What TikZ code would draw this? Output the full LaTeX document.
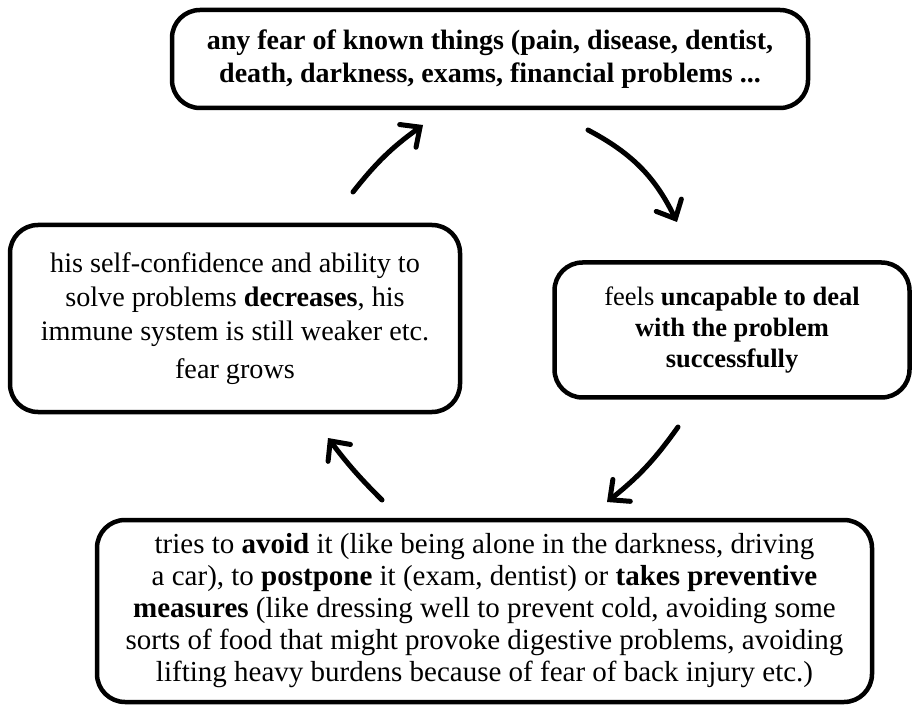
\documentclass[tikz,border=0pt]{standalone}
\usepackage{fontspec}
\setmainfont{Liberation Serif}
\usetikzlibrary{arrows.meta}
\begin{document}
\begin{tikzpicture}[x=1pt,y=1pt,
  box/.style={draw=black, line width=4.5pt, rounded corners=28pt, fill=white,
    align=center, inner sep=0pt},
  cyc/.style={line width=5pt, line cap=round,
    -{Straight Barb[length=15pt,width=28pt,line cap=round]}}]
  \useasboundingbox (0,0) rectangle (918,713);

  % the four stages of the cycle
  \node[box, minimum width=636pt, minimum height=98pt,
        font=\fontsize{28}{33}\selectfont\bfseries] (fear) at (490,654)
    {any fear of known things (pain, disease, dentist,\\
     death, darkness, exams, financial problems ...};
  \node[box, minimum width=355pt, minimum height=135pt,
        font=\fontsize{26.5}{31}\selectfont] (unable) at (732,383)
    {feels \textbf{uncapable to deal}\\ \textbf{with the problem}\\ \textbf{successfully}};
  \node[box, minimum width=775pt, minimum height=182pt,
        font=\fontsize{29}{32}\selectfont] (avoid) at (484.5,102)
    {tries to \textbf{avoid} it (like being alone in the darkness, driving\\
     a car), to \textbf{postpone} it (exam, dentist) or \textbf{takes preventive}\\
     \textbf{measures} (like dressing well to prevent cold, avoiding some\\
     sorts of food that might provoke digestive problems, avoiding\\
     lifting heavy burdens because of fear of back injury etc.)};
  \node[box, minimum width=450pt, minimum height=187pt,
        font=\fontsize{28.2}{34}\selectfont] (grows) at (235,394.5)
    {his self-confidence and ability to\\ solve problems \textbf{decreases}, his\\
     immune system is still weaker etc.\\[4pt] fear grows};

  % arrow ends between the stages
  \coordinate (a1s) at (353,521); \coordinate (a1e) at (423,588);
  \coordinate (a2s) at (588,583); \coordinate (a2e) at (677,491);
  \coordinate (a3s) at (678,286); \coordinate (a3e) at (607,211);
  \coordinate (a4s) at (382,213); \coordinate (a4e) at (328,275);

  \draw[cyc] (a1s) to[bend left=8] (a1e);
  \draw[cyc] (a2s) to[bend left=18] (a2e);
  \draw[cyc] (a3s) to[bend left=8] (a3e);
  \draw[cyc] (a4s) to[bend left=4] (a4e);
\end{tikzpicture}
\end{document}
